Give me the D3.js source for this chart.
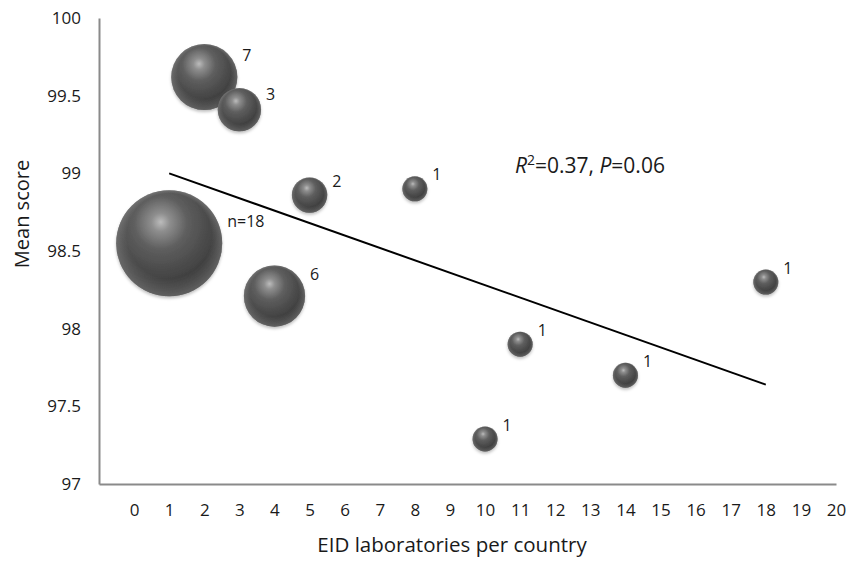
<!DOCTYPE html>
<html>
<head>
<meta charset="utf-8">
<script src="https://cdn.jsdelivr.net/npm/d3@7"></script>
<style>
  body { margin: 0; background: white; }
  text { font-family: "Open Sans", sans-serif; fill: #1a1a1a; }
</style>
</head>
<body>
<svg id="plot"></svg>
<script>
// Data
const labs = [1, 2, 3, 4, 5, 8, 10, 11, 14, 18];
const meanScore = [98.55, 99.62, 99.41, 98.21, 98.86, 98.90, 97.29, 97.90, 97.70, 98.30];
const nCountries = [18, 7, 3, 6, 2, 1, 1, 1, 1, 1];
const pointLabels = ['n=18', '7', '3', '6', '2', '1', '1', '1', '1', '1'];
const trendX = [1, 18];
const trendY = [99.0, 97.64];
const xTicks = d3.range(0, 21);
const yTicks = [97, 97.5, 98, 98.5, 99, 99.5, 100];

const data = labs.map((x, i) => ({ x: x, y: meanScore[i], n: nCountries[i], label: pointLabels[i] }));

let width = 846, height = 568;
let margin = { top: 18, bottom: 84, left: 99, right: 10 };

let svg = d3.select('#plot')
  .attr('width', width)
  .attr('height', height)
  .style('background', 'white');

let xScale = d3.scaleLinear()
  .domain([-1, 20])
  .range([margin.left, 836]);

let yScale = d3.scaleLinear()
  .domain([97, 100])
  .range([484, margin.top]);

let rScale = d3.scaleSqrt()
  .domain([0, 18])
  .range([0, 53]);

// sphere shading
let defs = svg.append('defs');
let grad = defs.append('radialGradient')
  .attr('id', 'ball')
  .attr('cx', '0.42').attr('cy', '0.32').attr('r', '0.72')
  .attr('fx', '0.42').attr('fy', '0.30');
[[0, '#bcbcbc'], [0.12, '#8e8e8e'], [0.35, '#5e5e5e'], [0.7, '#454545'], [0.92, '#323232'], [1, '#2a2a2a']]
  .forEach(s => grad.append('stop').attr('offset', s[0]).attr('stop-color', s[1]));

let rim = defs.append('radialGradient')
  .attr('id', 'rim')
  .attr('cx', '0.5').attr('cy', '0.5').attr('r', '0.5')
  .attr('fx', '0.5').attr('fy', '0.15');
rim.append('stop').attr('offset', 0.8).attr('stop-color', '#888').attr('stop-opacity', 0);
rim.append('stop').attr('offset', 1).attr('stop-color', '#888').attr('stop-opacity', 0.55);

let shadow = defs.append('filter').attr('id', 'shadow')
  .attr('x', '-20%').attr('y', '-20%').attr('width', '140%').attr('height', '150%');
shadow.append('feDropShadow')
  .attr('dx', 0).attr('dy', 2).attr('stdDeviation', 1.5)
  .attr('flood-color', '#000').attr('flood-opacity', 0.25);

// axes (lines only, labels drawn by the axis generators)
let xAxis = svg.append('g')
  .attr('transform', `translate(0, ${yScale(97)})`)
  .call(d3.axisBottom(xScale).tickValues(xTicks).tickSize(0).tickPadding(20).tickFormat(d3.format('d')));

let yAxis = svg.append('g')
  .attr('transform', `translate(${margin.left}, 0)`)
  .call(d3.axisLeft(yScale).tickValues(yTicks).tickSize(0).tickPadding(18).tickFormat(d => d));

[xAxis, yAxis].forEach(a => {
  a.select('.domain').attr('stroke', '#8a8a8a').attr('stroke-width', 2);
  a.selectAll('text').style('font-family', '"Open Sans", sans-serif').style('font-size', '17px').attr('fill', '#1a1a1a');
});

// bubbles
let bubbles = svg.selectAll('g.bubble')
  .data(data)
  .enter()
  .append('g')
  .attr('class', 'bubble');

bubbles.append('circle')
  .attr('cx', d => xScale(d.x))
  .attr('cy', d => yScale(d.y))
  .attr('r', d => rScale(d.n))
  .attr('fill', 'url(#ball)')
  .attr('filter', 'url(#shadow)');

bubbles.append('circle')
  .attr('cx', d => xScale(d.x))
  .attr('cy', d => yScale(d.y))
  .attr('r', d => rScale(d.n))
  .attr('fill', 'url(#rim)');

// trend line
svg.append('line')
  .attr('x1', xScale(trendX[0]))
  .attr('y1', yScale(trendY[0]))
  .attr('x2', xScale(trendX[1]))
  .attr('y2', yScale(trendY[1]))
  .attr('stroke', 'black')
  .attr('stroke-width', 2);

// point labels
bubbles.append('text')
  .attr('x', d => xScale(d.x) + rScale(d.n) + 5)
  .attr('y', d => yScale(d.y) - Math.max(14, Math.min(0.7 * rScale(d.n), 22)))
  .attr('dy', '0.35em')
  .style('font-size', '16px')
  .text(d => d.label);

// annotation
let ann = svg.append('text')
  .attr('x', 515)
  .attr('y', 173)
  .style('font-size', '21px');
ann.append('tspan').style('font-style', 'italic').text('R');
ann.append('tspan').attr('dy', -8).style('font-size', '14px').text('2');
ann.append('tspan').attr('dy', 8).text('=0.37, ');
ann.append('tspan').style('font-style', 'italic').text('P');
ann.append('tspan').text('=0.06');

// axis titles
svg.append('text')
  .attr('x', 452)
  .attr('y', 552)
  .attr('text-anchor', 'middle')
  .style('font-size', '20.5px')
  .text('EID laboratories per country');

svg.append('text')
  .attr('transform', 'translate(29, 214) rotate(-90)')
  .attr('text-anchor', 'middle')
  .style('font-size', '20px')
  .text('Mean score');
</script>
</body>
</html>
